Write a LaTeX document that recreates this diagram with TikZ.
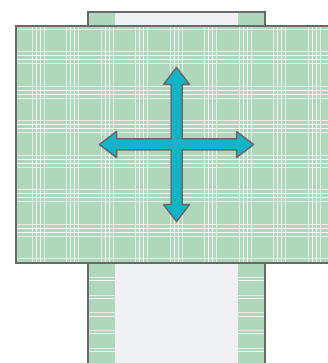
\documentclass[tikz,border=0pt]{standalone}
\definecolor{plaidgreen}{HTML}{B0D7BB}
\definecolor{panelgray}{HTML}{F0F1F3}
\definecolor{edgegray}{HTML}{68686D}
\definecolor{arrowcyan}{HTML}{10B6C7}
\tikzset{
  edge/.style={draw=edgegray, line width=2pt},
  stripeA/.style={draw=white, line width=1pt, opacity=0.85},
  stripeB/.style={draw=white, line width=1pt, opacity=0.6},
  crossarrow/.style={fill=arrowcyan, draw=edgegray, line width=1.5pt, line join=round}
}
\begin{document}
\begin{tikzpicture}[x=1pt,y=-1pt]
\useasboundingbox (0,0) rectangle (328,363);
% top tab
\fill[plaidgreen] (87.5,12.5) rectangle (264.5,30);
\fill[panelgray] (115,13.5) rectangle (238,30);
\draw[edge] (87.5,30) -- (87.5,12.5) -- (264.5,12.5) -- (264.5,30);
% bottom part
\fill[plaidgreen] (87.5,255) rectangle (264.5,370);
\fill[panelgray] (115,255) rectangle (238,370);
\begin{scope}
  \clip (87.5,255) rectangle (115,370) (238,255) rectangle (264.5,370);
  \foreach \y in {277.3,295,312.7,330.4,348.1,365.8}{
    \draw[stripeB] (80,\y) -- (270,\y);
    \draw[stripeA] (80,\y+3.4) -- (270,\y+3.4);
  }
\end{scope}
\draw[edge] (87.5,370) -- (87.5,255) (264.5,255) -- (264.5,370);
% main panel
\fill[plaidgreen] (15.5,26) rectangle (340,263);
\begin{scope}
  \clip (15.5,26) rectangle (340,263);
  \foreach \x in {-2.5,32,66.5,101,135.5,170,204.5,239,273.5,308,342.5}{
    \draw[stripeB] (\x,20) -- (\x,270);
    \draw[stripeA] (\x+4,20) -- (\x+4,270);
    \draw[stripeA] (\x+8,20) -- (\x+8,270);
    \draw[stripeB] (\x+12,20) -- (\x+12,270);
  }
  \foreach \y in {17.2,51.7,86.2,120.7,155.2,189.7,224.2,258.7}{
    \draw[stripeB] (10,\y) -- (340,\y);
    \draw[stripeA] (10,\y+4) -- (340,\y+4);
    \draw[stripeA] (10,\y+8) -- (340,\y+8);
    \draw[stripeB] (10,\y+12) -- (340,\y+12);
  }
\end{scope}
\draw[edge] (340,26) -- (15.5,26) -- (15.5,263) -- (340,263);
% four-way arrow
\begin{scope}[shift={(176.5,144.5)}]
  \def\s{5.5}\def\h{13}\def\L{77}\def\m{60}
  \draw[crossarrow] (0,-\L) -- (\h,-\m) -- (\s,-\m) -- (\s,-\s) -- (\m,-\s) -- (\m,-\h) -- (\L,0)
    -- (\m,\h) -- (\m,\s) -- (\s,\s) -- (\s,\m) -- (\h,\m) -- (0,\L)
    -- (-\h,\m) -- (-\s,\m) -- (-\s,\s) -- (-\m,\s) -- (-\m,\h) -- (-\L,0)
    -- (-\m,-\h) -- (-\m,-\s) -- (-\s,-\s) -- (-\s,-\m) -- (-\h,-\m) -- cycle;
\end{scope}
\end{tikzpicture}
\end{document}
